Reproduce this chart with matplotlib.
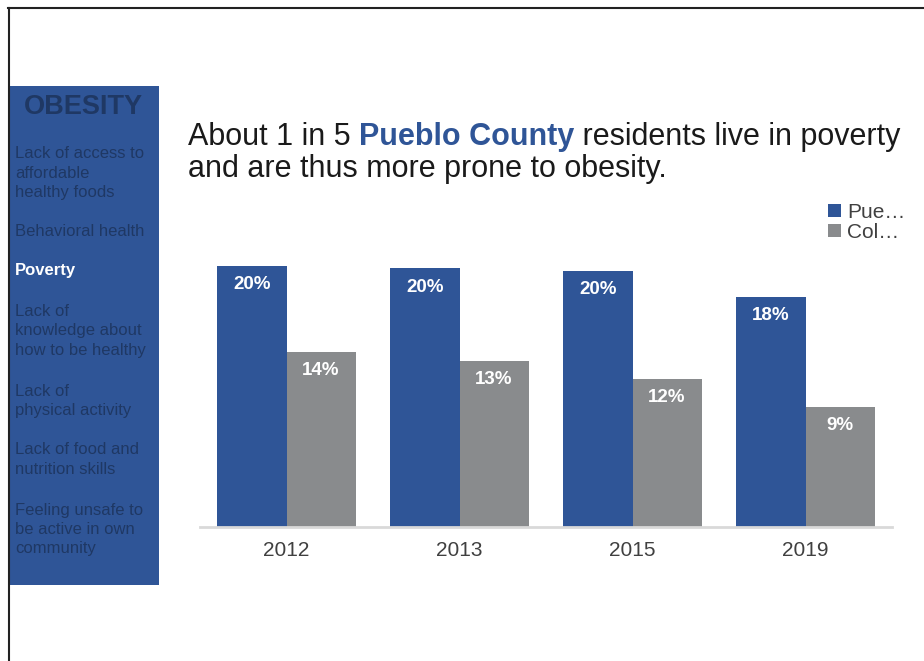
import matplotlib
matplotlib.use("Agg")
import matplotlib.pyplot as plt
from matplotlib.patches import Rectangle, Patch
from matplotlib.lines import Line2D

# ---- data ----
years = ["2012", "2013", "2015", "2019"]
pueblo = [20.4, 20.2, 20.0, 18.0]
colorado = [13.7, 13.0, 11.6, 9.4]
series_labels = ["Pue…", "Col…"]
sidebar_title = "OBESITY"
sidebar_items = [
    "Lack of access to\naffordable\nhealthy foods",
    "Behavioral health",
    "Poverty",
    "Lack of\nknowledge about\nhow to be healthy",
    "Lack of\nphysical activity",
    "Lack of food and\nnutrition skills",
    "Feeling unsafe to\nbe active in own\ncommunity",
]
highlight_item = "Poverty"

BLUE = "#2F5597"
GRAY = "#898B8D"
NAVY = "#1F3864"
FONT = "Liberation Sans"

W, H = 924, 661
fig = plt.figure(figsize=(W / 100, H / 100), dpi=100)
plt.rcParams["font.family"] = [FONT, "DejaVu Sans"]

def fx(px):
    return px / W

def fy(py):
    return 1 - py / H

# frame lines (top and left)
fig.add_artist(Line2D([fx(8), 1.0], [fy(8), fy(8)], color="#222222", lw=1.5))
fig.add_artist(Line2D([fx(8.5), fx(8.5)], [fy(8), 0.0], color="#222222", lw=1.5))

# sidebar
fig.add_artist(Rectangle((fx(9), fy(585)), fx(159) - fx(9), fy(86) - fy(585),
                         transform=fig.transFigure, facecolor=BLUE, edgecolor="none"))
fig.text(fx(83), fy(107), sidebar_title, ha="center", va="center",
         fontsize=19.5, fontweight="bold", color=NAVY)
item_centers = [173, 231, 271, 331, 401, 459.5, 529.5]
for item, cy in zip(sidebar_items, item_centers):
    col = "white" if item == highlight_item else NAVY
    fig.text(fx(15), fy(cy), item, ha="left", va="center", fontsize=12,
             color=col, linespacing=1.36,
             fontweight="bold" if item == highlight_item else "normal")

# chart axes
ax = fig.add_axes([fx(200), fy(527), fx(892) - fx(200), (527 - 207) / H])
xs = list(range(len(years)))
bw = 0.4
b1 = ax.bar([x - bw / 2 for x in xs], pueblo, width=bw, color=BLUE, label=series_labels[0])
b2 = ax.bar([x + bw / 2 for x in xs], colorado, width=bw, color=GRAY, label=series_labels[1])
ax.set_xlim(-0.5, len(years) - 0.5)
ax.set_ylim(0, 25)
ax.set_xticks(xs)
ax.set_xticklabels(years, fontsize=15, color="#404040")
ax.tick_params(axis="x", length=0, pad=10)
ax.set_yticks([])
for s in ["top", "right", "left"]:
    ax.spines[s].set_visible(False)
ax.spines["bottom"].set_color("#D9D9D9")
ax.spines["bottom"].set_linewidth(2)

for bars, vals in ((b1, pueblo), (b2, colorado)):
    for rect, v in zip(bars, vals):
        ax.annotate(f"{round(v)}%", xy=(rect.get_x() + rect.get_width() / 2, v),
                    xytext=(0, -19), textcoords="offset pixels",
                    ha="center", va="center", fontsize=13.5, fontweight="bold",
                    color="white")

# legend
handles = [Patch(facecolor=BLUE), Patch(facecolor=GRAY)]
fig.legend(handles, series_labels, loc="upper left",
           bbox_to_anchor=(fx(824), fy(199)), frameon=False, fontsize=15,
           handlelength=0.6, handleheight=0.6, handletextpad=0.3,
           labelspacing=0.05, borderaxespad=0, borderpad=0.2,
           labelcolor="#404040")

# title with mixed styles
TS = 22
t1 = fig.text(fx(188), fy(145), "About 1 in 5 ", ha="left", va="baseline",
              fontsize=TS, color="#1A1A1A")
t2 = ax.annotate("Pueblo County", xy=(1, 0), xycoords=t1, ha="left", va="bottom",
                 fontsize=TS, fontweight="bold", color=BLUE, annotation_clip=False)
t3 = ax.annotate(" residents live in poverty", xy=(1, 0), xycoords=t2, ha="left",
                 va="bottom", fontsize=TS, color="#1A1A1A", annotation_clip=False)
fig.text(fx(188), fy(177), "and are thus more prone to obesity.", ha="left",
         va="baseline", fontsize=TS, color="#1A1A1A")

fig.savefig("out.png", dpi=100)
